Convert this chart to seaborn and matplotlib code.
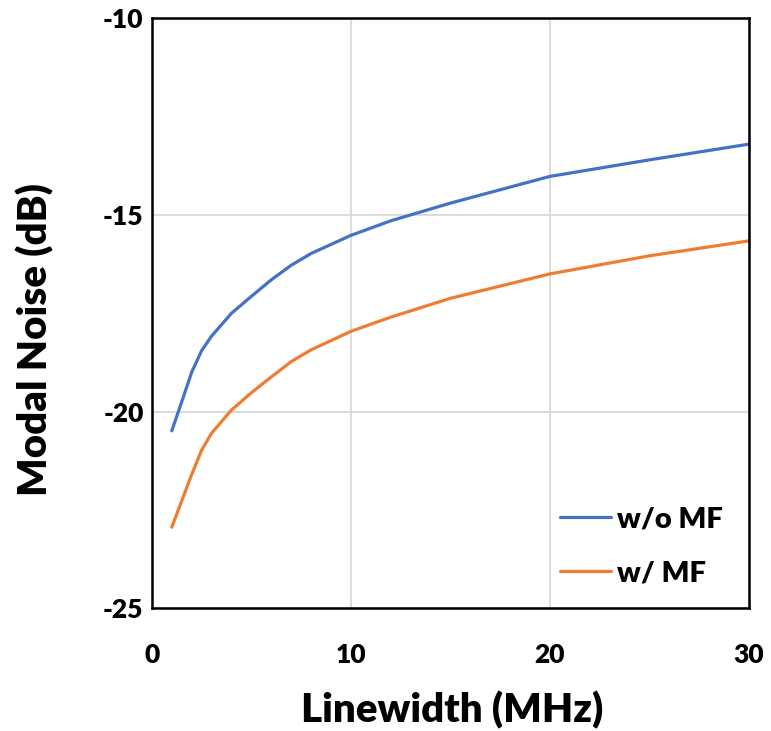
import pandas as pd
import matplotlib
matplotlib.use("Agg")
import matplotlib.pyplot as plt
import seaborn as sns

# data
linewidth_mhz = [1, 1.5, 2, 2.5, 3, 4, 5, 6, 7, 8, 10, 12, 15, 20, 25, 30]
noise_wo_mf = [-20.49, -19.75, -19.0, -18.45, -18.08, -17.5, -17.07, -16.65,
               -16.28, -15.98, -15.52, -15.15, -14.7, -14.02, -13.6, -13.2]
noise_w_mf = [-22.94, -22.27, -21.6, -20.98, -20.55, -19.96, -19.52, -19.12,
              -18.73, -18.43, -17.96, -17.6, -17.12, -16.5, -16.04, -15.66]
series_names = ["w/o MF", "w/ MF"]

df = pd.DataFrame({
    "Linewidth": linewidth_mhz * 2,
    "Noise": noise_wo_mf + noise_w_mf,
    "Series": [series_names[0]] * len(linewidth_mhz) + [series_names[1]] * len(linewidth_mhz),
})

sns.set_theme(style="whitegrid")
plt.rcParams['font.family'] = ['Lato', 'DejaVu Sans']
plt.rcParams['axes.unicode_minus'] = False
plt.rcParams['text.color'] = 'black'
plt.rcParams['axes.labelcolor'] = 'black'
plt.rcParams['xtick.color'] = 'black'
plt.rcParams['ytick.color'] = 'black'

fig = plt.figure(figsize=(7.71, 7.31), dpi=100)
ax = fig.add_axes([0.197, 0.168, 0.7745, 0.807])

sns.lineplot(data=df, x="Linewidth", y="Noise", hue="Series",
             palette=["#4472C4", "#ED7D31"], linewidth=2.3, ax=ax)

ax.set_xlim(0, 30)
ax.set_ylim(-25, -10)
ax.set_xticks([0, 10, 20, 30])
ax.set_yticks([-25, -20, -15, -10])
ax.grid(True, color="#d9d9d9", linewidth=1.3)
for s in ax.spines.values():
    s.set_color("black")
    s.set_linewidth(1.8)

ax.tick_params(axis="x", labelsize=19, length=0, pad=25)
ax.tick_params(axis="y", labelsize=19, length=0, pad=6)
for lab in ax.get_xticklabels() + ax.get_yticklabels():
    lab.set_fontweight("heavy")

ax.set_xlabel("Linewidth (MHz)", fontsize=29, fontweight="heavy", va="center", ha="center")
ax.set_ylabel("Modal Noise (dB)", fontsize=29, fontweight="heavy", va="center", ha="center")
ax.xaxis.set_label_coords(0.502, -0.173)
ax.yaxis.set_label_coords(-0.196, 0.456)

leg = ax.legend(loc="center right", bbox_to_anchor=(1.0, 0.105), frameon=False,
                fontsize=21, handlelength=1.75, labelspacing=0.95, handletextpad=0.2)
for t in leg.get_texts():
    t.set_fontweight("heavy")

plt.savefig("out.png", dpi=100)
